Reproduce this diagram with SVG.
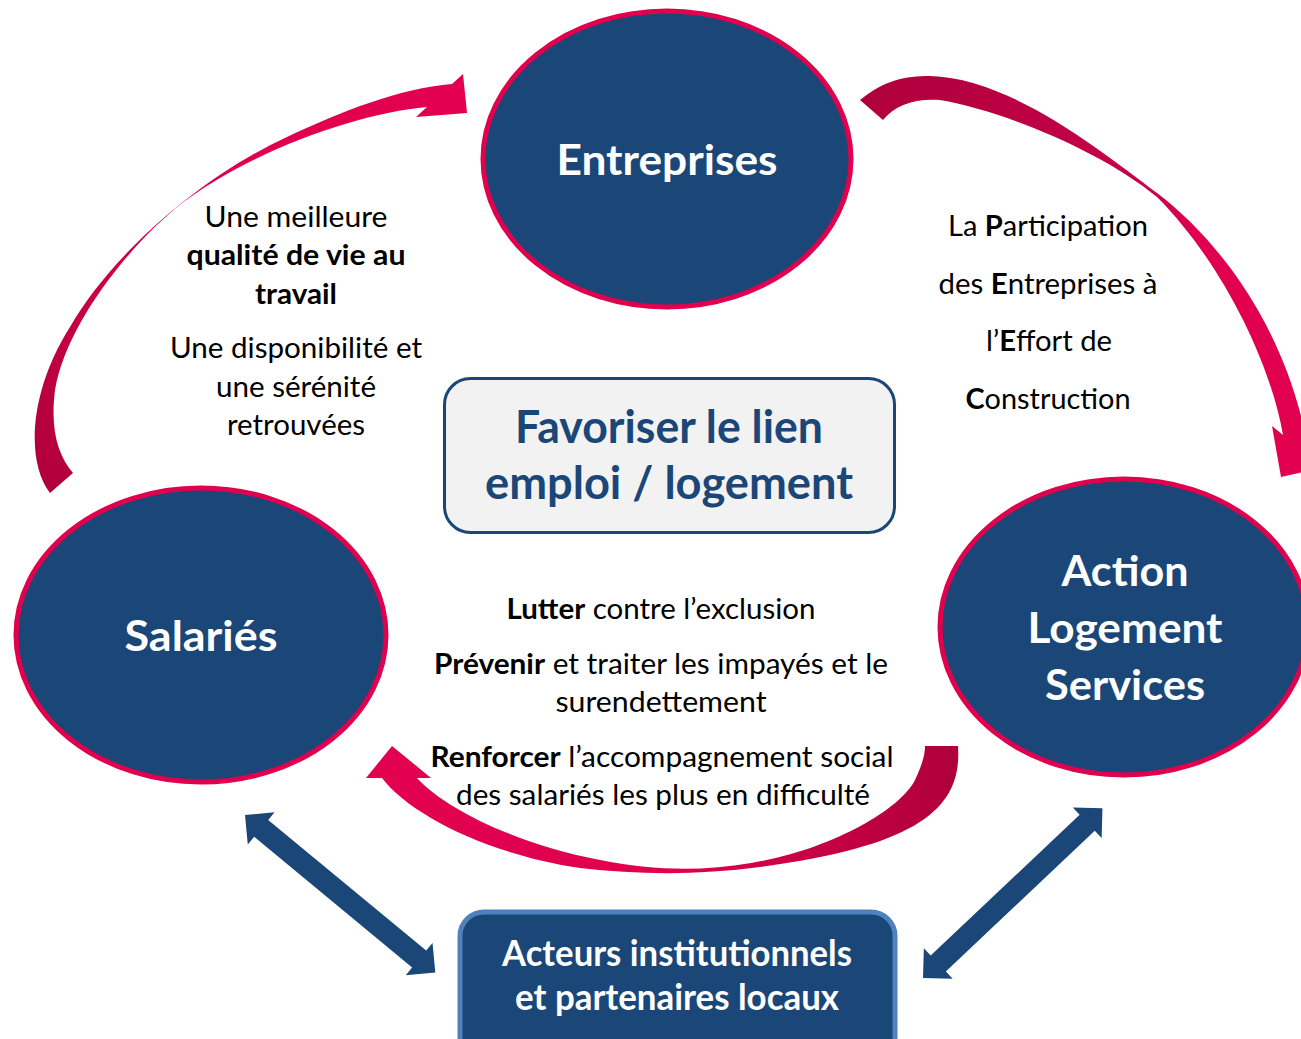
<svg xmlns="http://www.w3.org/2000/svg" width="1301" height="1039" viewBox="0 0 1301 1039">
<style>
.node{fill:#1a4778;stroke:#e0004d;stroke-width:5}
.nl{font-family:Lato,"Open Sans","Liberation Sans",sans-serif;font-weight:700;fill:#fff;font-size:42px;text-anchor:middle}
.cl{font-family:Lato,"Open Sans","Liberation Sans",sans-serif;font-weight:700;fill:#1a4778;font-size:45px;text-anchor:middle}
.al{font-family:Lato,"Open Sans","Liberation Sans",sans-serif;font-weight:700;fill:#fff;font-size:36px;text-anchor:middle}
.t{font-family:Lato,"Open Sans","Liberation Sans",sans-serif;fill:#000;font-size:28px;text-anchor:middle}
.b{font-weight:700}
.dbl{fill:#1a4778}
</style>
<defs>
<linearGradient id="gL" gradientUnits="userSpaceOnUse" x1="50" y1="490" x2="460" y2="90">
<stop offset="0" stop-color="#b0003c"/><stop offset="0.55" stop-color="#e0004d"/><stop offset="1" stop-color="#e2004f"/>
</linearGradient>
<linearGradient id="gR" gradientUnits="userSpaceOnUse" x1="870" y1="100" x2="1290" y2="470">
<stop offset="0" stop-color="#b0003c"/><stop offset="0.45" stop-color="#c8004a"/><stop offset="0.6" stop-color="#e0004d"/><stop offset="1" stop-color="#e2004f"/>
</linearGradient>
<linearGradient id="gB" gradientUnits="userSpaceOnUse" x1="950" y1="0" x2="390" y2="0">
<stop offset="0" stop-color="#b0003c"/><stop offset="0.5" stop-color="#e0004d"/><stop offset="1" stop-color="#e2004f"/>
</linearGradient>
<polygon id="dblArrow" points="0,0 21,-21 21,-11 226,-11 226,-21 247,0 226,21 226,11 21,11 21,21"/>
</defs>

<g id="connectors">
<path id="arrow-salaries-entreprises" fill="url(#gL)" d="M50,493 C25,460 30,390 70,327 C110,257 198,178 287,137 C340,112 400,88 452,84 L463,74 L467,113 L416,117 L427,107 C360,113 250,150 177,207 C120,255 65,330 55,390 C50,430 58,455 73,473 Z"/>
<path id="arrow-entreprises-als" fill="url(#gR)" d="M860,100 C885,80 905,76 930,76 C1010,78 1100,150 1157,193 C1225,245 1288,335 1308,448 L1330,466 L1281,477 L1272,426 L1283,435 C1270,360 1220,260 1157,197 C1100,150 1000,110 940,100 C915,98 895,105 883,120 Z"/>
<path id="arrow-als-salaries" fill="url(#gB)" d="M958,746 C962,805 925,845 760,867 C700,875 640,875 580,868 C490,855 410,815 382,778 L366,778 L392,746 L431,778 L417,778 C448,812 525,846 600,860 C650,870 700,872 751,863 C830,850 900,810 915,780 C922,765 925,755 925,746 Z"/>
<use id="arrow-salaries-acteurs" href="#dblArrow" class="dbl" transform="translate(245,815) rotate(39.6)"/>
<use id="arrow-als-acteurs" href="#dblArrow" class="dbl" transform="translate(923,978) rotate(-43.4)"/>
</g>

<g id="node-entreprises">
<ellipse class="node" cx="667" cy="159" rx="184" ry="148"/>
<text class="nl" x="667" y="175" textLength="221" lengthAdjust="spacingAndGlyphs">Entreprises</text>
</g>

<g id="node-salaries">
<ellipse class="node" cx="201" cy="635" rx="185" ry="147"/>
<text class="nl" x="201" y="651" textLength="153" lengthAdjust="spacingAndGlyphs">Salariés</text>
</g>

<g id="node-als">
<ellipse class="node" cx="1124" cy="627" rx="184" ry="148"/>
<text class="nl" x="1125" y="586" textLength="127" lengthAdjust="spacingAndGlyphs">Action</text>
<text class="nl" x="1125" y="643" textLength="195" lengthAdjust="spacingAndGlyphs">Logement</text>
<text class="nl" x="1125" y="700" textLength="160" lengthAdjust="spacingAndGlyphs">Services</text>
</g>

<g id="node-center">
<rect x="444.5" y="378.5" width="450" height="154" rx="26" fill="#f2f2f2" stroke="#1a4778" stroke-width="3"/>
<text class="cl" x="669" y="443" textLength="308" lengthAdjust="spacingAndGlyphs">Favoriser le lien</text>
<text class="cl" x="669" y="499" textLength="368" lengthAdjust="spacingAndGlyphs">emploi / logement</text>
</g>

<g id="node-acteurs">
<rect x="460" y="912" width="435" height="150" rx="24" fill="#1a4778" stroke="#4f81bd" stroke-width="5"/>
<text class="al" x="677" y="966" textLength="350" lengthAdjust="spacingAndGlyphs">Acteurs institutionnels</text>
<text class="al" x="677" y="1010" textLength="324" lengthAdjust="spacingAndGlyphs">et partenaires locaux</text>
</g>

<g id="label-left">
<text class="t" x="296" y="227" textLength="183" lengthAdjust="spacingAndGlyphs">Une meilleure</text>
<text class="t b" x="296" y="265" textLength="219" lengthAdjust="spacingAndGlyphs">qualité de vie au</text>
<text class="t b" x="296" y="304" textLength="82" lengthAdjust="spacingAndGlyphs">travail</text>
<text class="t" x="296" y="358" textLength="252" lengthAdjust="spacingAndGlyphs">Une disponibilité et</text>
<text class="t" x="296" y="397" textLength="160" lengthAdjust="spacingAndGlyphs">une sérénité</text>
<text class="t" x="296" y="435" textLength="138" lengthAdjust="spacingAndGlyphs">retrouvées</text>
</g>

<g id="label-right">
<text class="t" x="1048" y="236" textLength="200" lengthAdjust="spacingAndGlyphs">La <tspan class="b">P</tspan>articipation</text>
<text class="t" x="1048" y="294" textLength="219" lengthAdjust="spacingAndGlyphs">des <tspan class="b">E</tspan>ntreprises à</text>
<text class="t" x="1049" y="351" textLength="126" lengthAdjust="spacingAndGlyphs">l’<tspan class="b">E</tspan>ffort de</text>
<text class="t" x="1048" y="409" textLength="165" lengthAdjust="spacingAndGlyphs"><tspan class="b">C</tspan>onstruction</text>
</g>

<g id="label-bottom">
<text class="t" x="661" y="619" textLength="309" lengthAdjust="spacingAndGlyphs"><tspan class="b">Lutter</tspan> contre l’exclusion</text>
<text class="t" x="661" y="674" textLength="454" lengthAdjust="spacingAndGlyphs"><tspan class="b">Prévenir</tspan> et traiter les impayés et le</text>
<text class="t" x="661" y="712" textLength="211" lengthAdjust="spacingAndGlyphs">surendettement</text>
<text class="t" x="662" y="767" textLength="463" lengthAdjust="spacingAndGlyphs"><tspan class="b">Renforcer</tspan> l’accompagnement social</text>
<text class="t" x="663" y="805" textLength="414" lengthAdjust="spacingAndGlyphs">des salariés les plus en difficulté</text>
</g>
</svg>
